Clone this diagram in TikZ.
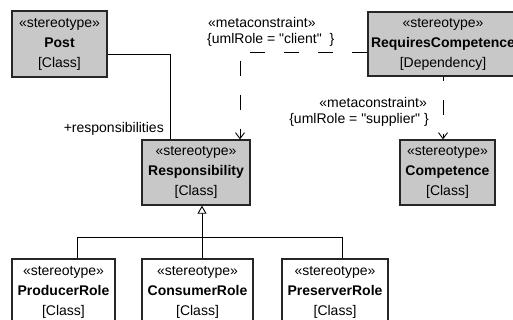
\documentclass[tikz,border=0pt]{standalone}
\usepackage{fontspec}
\newfontfamily\diagfont{Liberation Sans}
\usetikzlibrary{arrows.meta,calc,shadows}
\begin{document}
\begin{tikzpicture}[x=1pt,y=-1pt,
  umlbox/.style={draw=black!85, line width=1.3pt, rectangle, inner sep=0pt, align=center,
     font=\diagfont\fontsize{14}{20}\selectfont,
     drop shadow={shadow xshift=1.2pt, shadow yshift=-1.2pt, fill=black!35, opacity=1}},
  graybox/.style={umlbox, fill={rgb,255:red,200;green,200;blue,200}},
  whitebox/.style={umlbox, fill=white},
  lbl/.style={font=\diagfont\fontsize{14}{17}\selectfont, inner sep=0pt, align=center},
  conn/.style={line width=0.9pt, black},
  dep/.style={conn, dash pattern=on 15pt off 19pt, -{Straight Barb[length=6pt,width=9pt,line width=0.9pt]}},
  gen/.style={conn, -{Triangle[open,length=8pt,width=9pt,line width=0.9pt,fill=white]}}
]
\clip (0,0) rectangle (513,320);
\fill[white] (0,0) rectangle (513,320);

\node[graybox, minimum width=95pt, minimum height=66pt] (post) at (59.5,44)
  {«stereotype»\\ \textbf{Post}\\ {[Class]}};
\node[graybox, minimum width=150pt, minimum height=64pt] (req) at (443,44)
  {«stereotype»\\ \textbf{RequiresCompetence}\\ {[Dependency]}};
\node[graybox, minimum width=108pt, minimum height=65pt] (resp) at (196,172.5)
  {«stereotype»\\ \textbf{Responsibility}\\ {[Class]}};
\node[graybox, minimum width=95pt, minimum height=65pt] (comp) at (447.5,172.5)
  {«stereotype»\\ \textbf{Competence}\\ {[Class]}};
\node[whitebox, minimum width=103pt, minimum height=66pt] (prod) at (63.5,292)
  {«stereotype»\\ \textbf{ProducerRole}\\ {[Class]}};
\node[whitebox, minimum width=111pt, minimum height=66pt] (cons) at (197.5,292)
  {«stereotype»\\ \textbf{ConsumerRole}\\ {[Class]}};
\node[whitebox, minimum width=106pt, minimum height=66pt] (pres) at (335,292)
  {«stereotype»\\ \textbf{PreserverRole}\\ {[Class]}};

% association Post -> Responsibility
\coordinate (pa) at ($(post.east)+(0,10)$);
\coordinate (pb) at ($(resp.north)+(-26,0)$);
\draw[conn] (pa) -| (pb);
\node[lbl, anchor=east] (role) at (164,129) {+responsibilities};

% client dependency
\coordinate (ca) at ($(req.west)+(0,8)$);
\coordinate (cb) at ($(resp.north)+(44,0)$);
\draw[dep] (ca) -| (cb);
\node[lbl, anchor=west] (mc1) at (208,22) {«metaconstraint»};
\node[lbl, anchor=west] (ur1) at (207,40) {\{umlRole = "client"\ \ \}};

% supplier dependency
\coordinate (sa) at (req.south);
\coordinate (sb) at (req.south |- comp.north);
\draw[dep, dash phase=11pt] (sa) -- (sb);
\node[lbl, anchor=east] (mc2) at (427,102) {«metaconstraint»};
\node[lbl, anchor=east] (ur2) at (429,120) {\{umlRole = "supplier"\ \}};

% generalization
\coordinate (gj) at (202,237);
\coordinate (gl) at (77,237);
\coordinate (gr) at (342,237);
\draw[conn] (gl |- prod.north) -- (gl) -- (gr) -- (gr |- pres.north);
\draw[gen] (gj |- cons.north) -- (gj |- resp.south);
\end{tikzpicture}
\end{document}
